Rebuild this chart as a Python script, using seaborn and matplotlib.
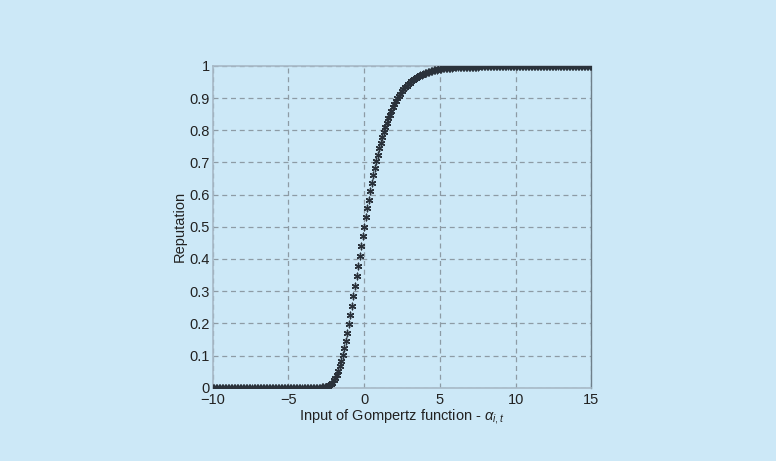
import numpy as np
import pandas as pd
import matplotlib
matplotlib.use("Agg")
import matplotlib.pyplot as plt
import seaborn as sns

# Sample grid (input of the Gompertz function), step 0.1 from -10 to 15
x_values = np.round(np.linspace(-10, 15, 251), 1)

# Reputation values
rep_flat_low = [0.0] * 70                       # x = -10.0 .. -3.1
rep_rise = [
    0.000, 0.000, 0.001, 0.001, 0.002, 0.003, 0.005, 0.008, 0.011, 0.016,   # -3.0 .. -2.1
    0.023, 0.031, 0.041, 0.053, 0.067, 0.084, 0.102, 0.123, 0.146, 0.171,   # -2.0 .. -1.1
    0.198, 0.226, 0.255, 0.285, 0.315, 0.346, 0.378, 0.409, 0.440, 0.470,   # -1.0 .. -0.1
    0.500, 0.529, 0.557, 0.584, 0.611, 0.636, 0.660, 0.682, 0.704, 0.724,   #  0.0 ..  0.9
    0.744, 0.762, 0.779, 0.795, 0.810, 0.824, 0.837, 0.849, 0.861, 0.871,   #  1.0 ..  1.9
    0.881, 0.890, 0.899, 0.907, 0.914, 0.921, 0.927, 0.933, 0.938, 0.943,   #  2.0 ..  2.9
    0.947, 0.952, 0.955, 0.959, 0.962, 0.965, 0.968, 0.971, 0.973, 0.975,   #  3.0 ..  3.9
    0.977, 0.979, 0.981, 0.982, 0.984, 0.985, 0.986, 0.987, 0.988, 0.989,   #  4.0 ..  4.9
    0.990, 0.991, 0.992, 0.992, 0.993, 0.994, 0.994, 0.995, 0.995, 0.996,   #  5.0 ..  5.9
    0.996, 0.996, 0.997, 0.997, 0.997, 0.997,                               #  6.0 ..  6.5
]
rep_tail = [0.998] * 10 + [0.999] * 10 + [1.0] * 65   # 6.6 .. 15.0
reputation = rep_flat_low + rep_rise + rep_tail

x_ticks = [-10, -5, 0, 5, 10, 15]
x_tick_labels = ["\u221210", "\u22125", "0", "5", "10", "15"]
y_ticks = [0, 0.1, 0.2, 0.3, 0.4, 0.5, 0.6, 0.7, 0.8, 0.9, 1]
y_tick_labels = ["0", "0.1", "0.2", "0.3", "0.4", "0.5", "0.6", "0.7", "0.8", "0.9", "1"]

df = pd.DataFrame({"x": x_values, "rep": reputation})

bg = "#cce8f7"
sns.set_theme(style="white")
plt.rcParams["font.family"] = ["Liberation Sans", "DejaVu Sans"]
plt.rcParams["mathtext.fontset"] = "custom"
plt.rcParams["mathtext.it"] = "Liberation Sans:italic"
plt.rcParams["mathtext.rm"] = "Liberation Sans"

fig = plt.figure(figsize=(7.76, 4.61), dpi=100, facecolor=bg)
ax = fig.add_axes([0.274, 0.159, 0.488, 0.698])
ax.set_facecolor(bg)

sns.scatterplot(data=df, x="x", y="rep", ax=ax, marker=(6, 2, 0), s=22,
                color="#2a323b", edgecolor="#2a323b", linewidth=1.0,
                zorder=3, legend=False)

ax.set_xlim(-10, 15)
ax.set_ylim(0, 1)
ax.set_xticks(x_ticks)
ax.set_xticklabels(x_tick_labels)
ax.set_yticks(y_ticks)
ax.set_yticklabels(y_tick_labels)
ax.tick_params(axis="both", length=0, labelsize=10.5, colors="#222222")
ax.tick_params(axis="x", pad=4)
ax.tick_params(axis="y", pad=2)

ax.grid(True, linestyle=(0, (4, 3)), color="#8d9ba5", linewidth=0.9)
for side in ["left", "top", "bottom"]:
    ax.spines[side].set_color("#a7b9c6")
    ax.spines[side].set_linewidth(1.2)
ax.spines["right"].set_color("#6f7f8a")
ax.spines["right"].set_linewidth(1.0)

ax.set_xlabel(r"Input of Gompertz function - $\alpha_{i,t}$", fontsize=10.5,
              color="#222222", labelpad=0)
ax.set_ylabel("Reputation", fontsize=10.5, color="#222222", labelpad=2)

fig.savefig("out.png", dpi=100, facecolor=bg)
